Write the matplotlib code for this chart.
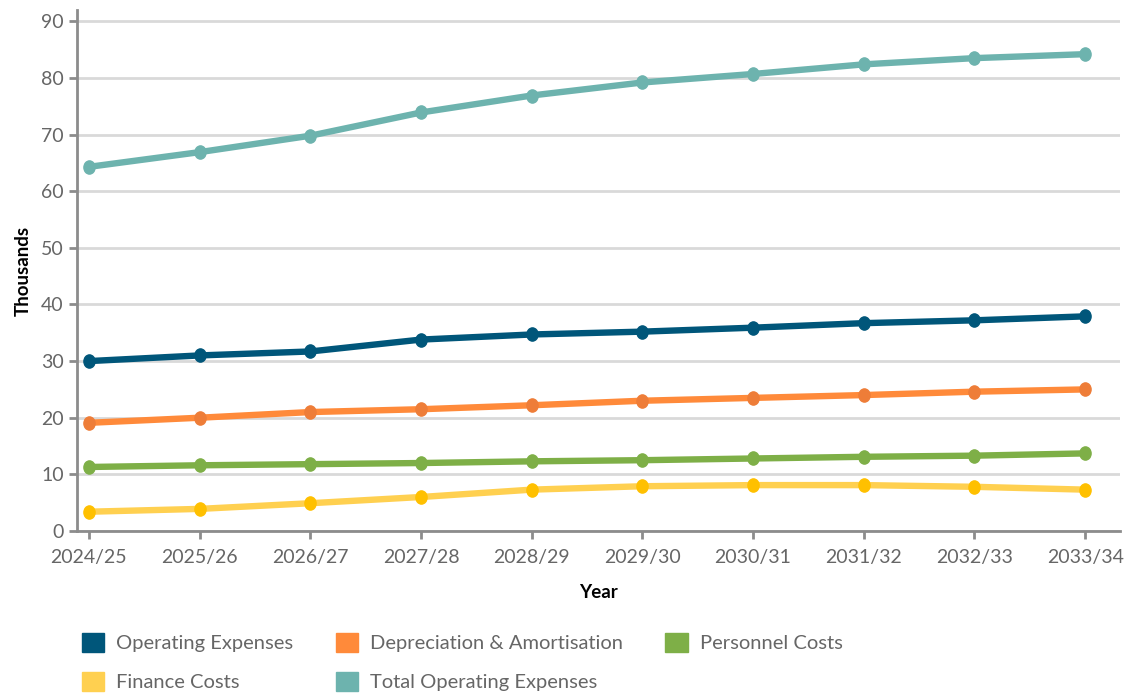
import matplotlib.pyplot as plt
from matplotlib.patches import Patch
from matplotlib.path import Path
from matplotlib.transforms import Affine2D

plt.rcParams['font.family'] = ['Lato', 'DejaVu Sans']

years = ["2024/25", "2025/26", "2026/27", "2027/28", "2028/29",
         "2029/30", "2030/31", "2031/32", "2032/33", "2033/34"]
operating = [30.0, 31.0, 31.7, 33.8, 34.7, 35.2, 35.9, 36.7, 37.2, 37.9]
depreciation = [19.1, 20.0, 21.0, 21.5, 22.2, 23.0, 23.5, 24.0, 24.6, 25.0]
personnel = [11.3, 11.6, 11.8, 12.0, 12.3, 12.5, 12.8, 13.1, 13.3, 13.7]
finance = [3.4, 3.9, 4.9, 6.0, 7.3, 7.9, 8.1, 8.1, 7.8, 7.3]
total = [64.3, 66.9, 69.8, 73.9, 76.9, 79.2, 80.7, 82.4, 83.5, 84.2]

series = [
    ("Operating Expenses", operating, "#00567A", "#00567A"),
    ("Depreciation & Amortisation", depreciation, "#FF8A3A", "#EE7D38"),
    ("Personnel Costs", personnel, "#7EAF47", "#7EAF47"),
    ("Finance Costs", finance, "#FFD050", "#FFC000"),
    ("Total Operating Expenses", total, "#6DB3AE", "#6DB3AE"),
]

# slightly tall oval dots
oval = Path.unit_circle().transformed(Affine2D().scale(1.0, 1.18))

fig = plt.figure(figsize=(11.24, 6.94), dpi=100)
ax = fig.add_axes([0.0685, 0.2349, 0.928, 0.7507])

x = list(range(len(years)))
for name, vals, lc, mc in series:
    ax.plot(x, vals, color=lc, linewidth=4.6, solid_capstyle='round',
            marker=oval, markersize=9.5, markerfacecolor=mc,
            markeredgecolor=mc, zorder=3)

ax.set_xlim(-0.108, 9.316)
ax.set_ylim(0, 92)
ax.set_yticks(range(0, 91, 10))
ax.set_xticks(x)
ax.set_xticklabels(years)
ax.yaxis.grid(True, color="#D9D9D9", linewidth=2)
ax.set_axisbelow(True)

for s in ["top", "right"]:
    ax.spines[s].set_visible(False)
for s in ["left", "bottom"]:
    ax.spines[s].set_color("#8C8C8C")
    ax.spines[s].set_linewidth(2)
ax.tick_params(colors="#8C8C8C", width=2, length=6, labelsize=14,
               labelcolor="#666666")
ax.tick_params(axis='x', pad=7)

ax.set_xlabel("Year", fontsize=13.5, fontweight="bold", labelpad=13)
ax.set_ylabel("Thousands", fontsize=13.5, fontweight="bold", labelpad=7)

# legend fills column by column, so order entries to read across rows
order = [0, 3, 1, 4, 2]
handles = [Patch(facecolor=series[i][2], edgecolor=series[i][2]) for i in order]
labels = [series[i][0] for i in order]
fig.legend(handles, labels, ncol=3, loc="lower left",
           bbox_to_anchor=(0.057, -0.022), frameon=False, fontsize=14.5,
           labelcolor="#666666", handlelength=1.1, handleheight=1.1,
           handletextpad=0.6, columnspacing=2.1, labelspacing=0.95)

fig.savefig("out.png", dpi=100)
